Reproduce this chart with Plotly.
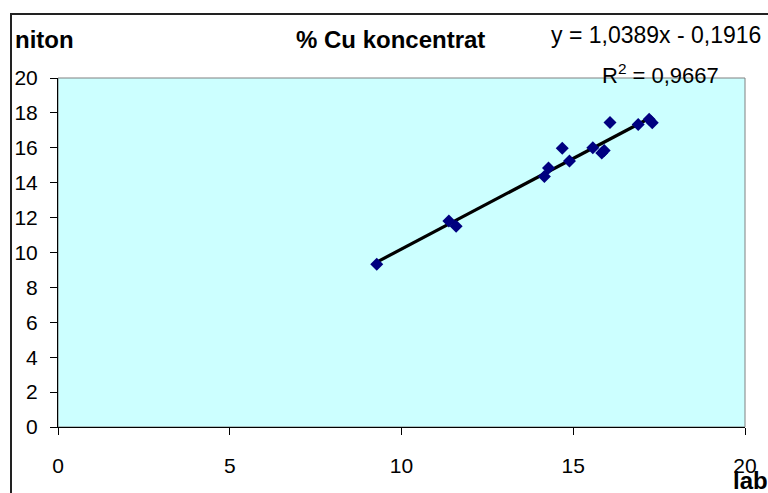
import plotly.graph_objects as go

# Cu content: laboratory assay vs. Niton handheld reading
lab = [9.28, 11.38, 11.59, 14.16, 14.28, 14.68, 14.89, 15.57, 15.83, 15.90,
       16.07, 16.89, 17.21, 17.30]
niton = [9.33, 11.81, 11.50, 14.36, 14.84, 15.98, 15.24, 16.00, 15.70, 15.85,
         17.45, 17.34, 17.63, 17.44]

# linear trendline coefficients as printed on the chart
slope = 1.0389
intercept = -0.1916
r_squared = 0.9667

x_ticks = [0, 5, 10, 15, 20]
y_ticks = [0, 2, 4, 6, 8, 10, 12, 14, 16, 18, 20]

W, H = 768, 493
L, R, T, B = 58, 745, 78, 427  # plot area in pixels


def px(x):
    return (x - L) / (R - L)


def py(y):
    return (B - y) / (B - T)


FONT = "Liberation Sans, Arial, sans-serif"

trend_x = [min(lab), max(lab)]
trend_y = [slope * v + intercept for v in trend_x]

fig = go.Figure()
fig.add_trace(go.Scatter(
    x=trend_x, y=trend_y, mode="lines",
    line=dict(color="black", width=3.2), hoverinfo="skip", showlegend=False))
fig.add_trace(go.Scatter(
    x=lab, y=niton, mode="markers",
    marker=dict(symbol="diamond", size=10, color="#000080",
                line=dict(width=0)),
    showlegend=False))

axis_common = dict(
    showgrid=False, zeroline=False, showline=True, linecolor="black",
    linewidth=1, ticks="outside", ticklen=7, tickcolor="black",
    tickfont=dict(family=FONT, size=21, color="black"))

fig.update_xaxes(range=[0, 20], tickvals=x_ticks, ticklabelstandoff=13,
                 **axis_common)
fig.update_yaxes(range=[0, 20], tickvals=y_ticks, ticklabelstandoff=8,
                 **axis_common)

eq_text = "y = 1,0389x - 0,1916"
r2_text = "R<sup>2</sup> = 0,9667"

fig.update_layout(
    width=W, height=H,
    margin=dict(l=L, r=W - R, t=T, b=H - B, pad=0),
    paper_bgcolor="white", plot_bgcolor="#CCFFFF",
    font=dict(family=FONT, color="black"),
    shapes=[
        # plot area frame
        dict(type="rect", xref="paper", yref="paper", x0=0, x1=1, y0=0, y1=1,
             line=dict(color="#808080", width=1), layer="below"),
        # chart frame
        dict(type="rect", xref="paper", yref="paper",
             x0=px(11), x1=px(800), y0=py(520), y1=py(14),
             line=dict(color="#222222", width=2)),
    ],
    annotations=[
        dict(text="<b>niton</b>", xref="paper", yref="paper",
             x=px(13), y=py(39), xanchor="left", yanchor="middle",
             showarrow=False, font=dict(size=24)),
        dict(text="<b>% Cu koncentrat</b>", xref="paper", yref="paper",
             x=px(390), y=py(39), xanchor="center", yanchor="middle",
             showarrow=False, font=dict(size=24)),
        dict(text=eq_text, xref="paper", yref="paper",
             x=px(656), y=py(35), xanchor="center", yanchor="middle",
             showarrow=False, font=dict(size=23)),
        dict(text=r2_text, xref="paper", yref="paper",
             x=px(660), y=py(74), xanchor="center", yanchor="middle",
             showarrow=False, font=dict(size=22)),
        dict(text="<b>lab</b>", xref="paper", yref="paper",
             x=px(731), y=py(481), xanchor="left", yanchor="middle",
             showarrow=False, font=dict(size=24)),
    ],
)

fig.write_html("out.html")
